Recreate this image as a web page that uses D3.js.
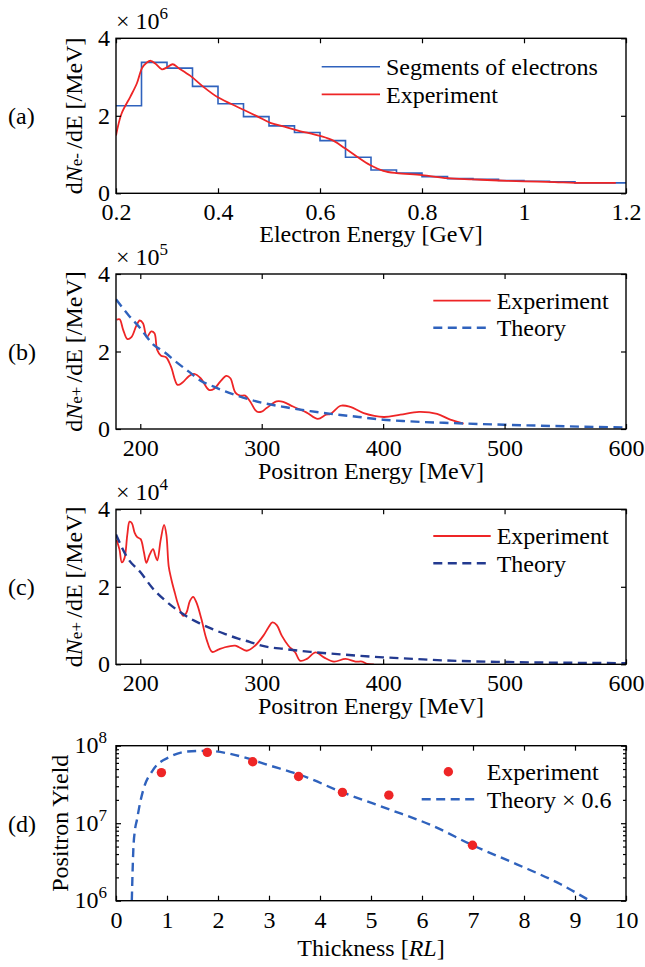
<!DOCTYPE html>
<html>
<head>
<meta charset="utf-8">
<script src="https://cdn.jsdelivr.net/npm/d3@7"></script>
<style>
body { margin: 0; background: #fff; }
svg text { font-family: 'Liberation Serif', 'Times New Roman', serif; fill: #000; }
</style>
</head>
<body>
<svg id="chart"></svg>
<script>
// (a) electron spectrum, units of 1e6 /MeV
var segStart = [0.2, 0.25, 0.3, 0.35, 0.4, 0.45, 0.5, 0.55, 0.6, 0.65, 0.7, 0.75, 0.8, 0.85, 0.9, 0.95, 1.0, 1.05, 1.1, 1.15];
var segValue = [2.26, 3.38, 3.23, 2.76, 2.31, 1.98, 1.74, 1.57, 1.36, 0.93, 0.60, 0.52, 0.43, 0.38, 0.36, 0.33, 0.31, 0.30, 0.27, 0.27];
var expA_E = [0.2, 0.211, 0.228, 0.241, 0.251, 0.26, 0.268, 0.277, 0.29, 0.30, 0.311, 0.323, 0.346, 0.372, 0.398, 0.425, 0.451, 0.478, 0.504, 0.53, 0.557, 0.6, 0.626, 0.649, 0.672, 0.698, 0.724, 0.75, 0.80, 0.85, 0.90, 0.95, 1.0, 1.06, 1.10, 1.18];
var expA_V = [1.49, 2.06, 2.49, 2.84, 3.23, 3.37, 3.42, 3.35, 3.20, 3.25, 3.33, 3.23, 3.03, 2.74, 2.49, 2.31, 2.15, 1.98, 1.81, 1.72, 1.62, 1.48, 1.36, 1.16, 0.95, 0.73, 0.58, 0.52, 0.47, 0.39, 0.36, 0.33, 0.31, 0.29, 0.27, 0.27];

// (b) positron spectrum, units of 1e5 /MeV
var expB_E = [180.5, 183, 185.9, 189.4, 192.7, 196.7, 199.5, 202.2, 205.4, 209, 211.7, 213.9, 217.1, 221.2, 225.3, 230.7, 234.8, 240.2, 244.3, 249.7, 256.5, 260.6, 266, 270.9, 274.2, 278.3, 282.3, 286.4, 290.5, 295.9, 300, 304, 312.2, 317.7, 325.8, 336.7, 346.2, 353, 356.7, 365, 373, 384, 400.5, 414.2, 429.6, 444.4, 455.3, 466.3];
var expB_V = [2.82, 2.83, 2.56, 2.32, 2.37, 2.66, 2.80, 2.73, 2.37, 2.52, 2.47, 2.04, 1.89, 1.85, 1.61, 1.14, 1.20, 1.37, 1.42, 1.31, 1.01, 1.03, 1.23, 1.37, 1.31, 0.94, 0.86, 0.86, 0.71, 0.45, 0.45, 0.54, 0.71, 0.70, 0.58, 0.43, 0.26, 0.37, 0.39, 0.60, 0.57, 0.41, 0.31, 0.37, 0.44, 0.39, 0.24, 0.14];
var theoB_E = [180, 190, 200, 210, 220, 230, 240, 250, 260, 270, 280, 300, 320, 340, 360, 380, 400, 420, 450, 500, 550, 600];
var theoB_V = [3.35, 2.95, 2.6, 2.2, 1.98, 1.72, 1.48, 1.24, 1.1, 0.97, 0.86, 0.68, 0.56, 0.46, 0.38, 0.31, 0.24, 0.2, 0.16, 0.11, 0.07, 0.04];

// (c) positron spectrum, units of 1e4 /MeV
var expC_E = [180.5, 182.9, 184.8, 187, 189.3, 191.2, 193.1, 195.3, 197.5, 200.3, 203, 205, 207.7, 210.5, 212.4, 214, 216.8, 219.6, 221.5, 223.4, 225.6, 228.4, 231.1, 235.3, 238, 240.8, 243.5, 246.3, 250.4, 254.5, 259.2, 264.2, 269.7, 278, 281.3, 287.6, 294.5, 301.4, 305.5, 308.8, 312.4, 316.5, 322, 327.5, 331.7, 337.2, 344.4, 351.2, 359.5, 369, 377.3, 382.7, 386.8, 392.3];
var expC_V = [3.21, 2.96, 2.63, 2.74, 3.34, 3.68, 3.64, 3.40, 3.28, 3.23, 2.89, 2.62, 2.83, 2.97, 2.80, 2.68, 3.21, 3.60, 3.34, 2.53, 2.19, 1.85, 1.55, 1.25, 1.33, 1.63, 1.74, 1.59, 1.16, 0.65, 0.32, 0.38, 0.44, 0.48, 0.44, 0.35, 0.48, 0.74, 0.95, 1.08, 1.01, 0.74, 0.48, 0.31, 0.09, 0.14, 0.31, 0.18, 0.07, 0.14, 0.07, 0.07, 0.01, 0];
var theoC_E = [180, 190, 200, 210, 220, 230, 240, 250, 260, 270, 280, 290, 300, 320, 340, 360, 380, 400, 425, 450, 500, 550, 600];
var theoC_V = [3.35, 2.72, 2.38, 1.97, 1.66, 1.41, 1.2, 1.04, 0.9, 0.78, 0.67, 0.58, 0.48, 0.39, 0.32, 0.27, 0.22, 0.18, 0.14, 0.1, 0.06, 0.04, 0.03];

// (d) positron yield vs thickness
var yieldX = [0.89, 1.79, 2.68, 3.58, 4.44, 5.35, 6.99];
var yieldY = [4.5e7, 8.2e7, 6.2e7, 4.0e7, 2.5e7, 2.3e7, 5.2e6];
var theoD_X = [0.31, 0.32, 0.34, 0.37, 0.41, 0.47, 0.535, 0.73, 1.06, 1.39, 1.78, 2.18, 2.57, 2.96, 3.42, 3.61, 4.44, 5.37, 6.22, 6.99, 7.86, 8.71, 9.29];
var theoD_Y = [1e6, 1.8e6, 4.6e6, 8e6, 1.1e7, 1.8e7, 2.7e7, 4.9e7, 7.2e7, 8.4e7, 8.6e7, 8.0e7, 6.9e7, 5.7e7, 4.6e7, 4.2e7, 2.5e7, 1.5e7, 9.2e6, 5.2e6, 2.95e6, 1.64e6, 1.0e6];

var xTicksA = [0.2, 0.4, 0.6, 0.8, 1, 1.2];
var xTicksE = [200, 300, 400, 500, 600];
var yTicksLin = [0, 2, 4];
var xTicksD = [0, 1, 2, 3, 4, 5, 6, 7, 8, 9, 10];
var yTicksD = [1e6, 1e7, 1e8];
var yMinorD = [2e6, 3e6, 4e6, 5e6, 6e6, 7e6, 8e6, 9e6, 2e7, 3e7, 4e7, 5e7, 6e7, 7e7, 8e7, 9e7];

var W = 645, H = 967;
var left = 116, plotW = 510, plotH = 155;
var red = "#ee2526", blue = "#2f62bd", navy = "#233a90";
var FS = 24;

var svg = d3.select("#chart").attr("width", W).attr("height", H);
var defs = svg.append("defs");

function panel(id, top, x, y) {
	var g = svg.append("g").attr("transform", "translate(" + left + "," + top + ")");
	defs.append("clipPath").attr("id", "clip" + id)
		.append("rect").attr("width", plotW).attr("height", plotH);
	g.plot = g.append("g").attr("clip-path", "url(#clip" + id + ")");
	return g;
}

function styleAxis(a) {
	a.attr("font-family", null).attr("font-size", FS);
	a.select(".domain").remove();
	a.selectAll(".tick line").attr("stroke", "#000").attr("stroke-width", 1.2);
}

function axes(g, x, y, xTicks, xFmt, yTicks, yFmt) {
	g.append("g").attr("transform", "translate(0," + plotH + ")")
		.call(d3.axisBottom(x).tickValues(xTicks).tickFormat(xFmt).tickSizeInner(-5).tickSizeOuter(0).tickPadding(10))
		.call(styleAxis);
	g.append("g")
		.call(d3.axisTop(x).tickValues(xTicks).tickFormat("").tickSizeInner(-5).tickSizeOuter(0))
		.call(styleAxis);
	g.append("g")
		.call(d3.axisLeft(y).tickValues(yTicks).tickFormat(yFmt).tickSizeInner(-5).tickSizeOuter(0).tickPadding(6))
		.call(styleAxis);
	g.append("g").attr("transform", "translate(" + plotW + ",0)")
		.call(d3.axisRight(y).tickValues(yTicks).tickFormat("").tickSizeInner(-5).tickSizeOuter(0))
		.call(styleAxis);
	g.append("rect").attr("width", plotW).attr("height", plotH)
		.attr("fill", "none").attr("stroke", "#000").attr("stroke-width", 1.4);
}

function yLabel(g, x, parts) {
	var t = g.append("text")
		.attr("transform", "translate(" + x + "," + plotH / 2 + ") rotate(-90)")
		.attr("text-anchor", "middle").attr("font-size", FS);
	parts.forEach(function(p) {
		var s = t.append("tspan").text(p.t);
		if (p.i) s.attr("font-style", "italic");
		if (p.s) s.attr("font-size", p.s);
	});
}

function xLabel(g, dy, parts) {
	var t = g.append("text").attr("x", plotW / 2).attr("y", plotH + dy)
		.attr("text-anchor", "middle").attr("font-size", FS);
	parts.forEach(function(p) {
		var s = t.append("tspan").text(p.t);
		if (p.i) s.attr("font-style", "italic");
	});
}

function tag(g, name) {
	g.append("text").attr("x", 8 - left).attr("y", plotH / 2).attr("dy", "0.35em")
		.attr("font-size", FS).text(name);
}

function multiplier(g, exp) {
	var t = g.append("text").attr("x", 0).attr("y", -9).attr("font-size", FS);
	t.append("tspan").text("\u00d7 10");
	t.append("tspan").attr("dy", -10).attr("font-size", 17).text(exp);
}

function legend(g, x0, x1, tx, rows) {
	rows.forEach(function(r) {
		if (r.dot) {
			g.append("circle").attr("cx", (x0 + x1) / 2).attr("cy", r.y).attr("r", 4.7).attr("fill", r.color);
		} else {
			g.append("line").attr("x1", x0).attr("x2", x1).attr("y1", r.y).attr("y2", r.y)
				.attr("stroke", r.color).attr("stroke-width", r.w)
				.attr("stroke-dasharray", r.dash || null);
		}
		g.append("text").attr("x", tx).attr("y", r.y).attr("dy", "0.35em")
			.attr("font-size", FS).text(r.text);
	});
}

function drawLine(g, xs, ys, x, y, color, w, dash, curve) {
	var pts = xs.map(function(d, i) { return [d, ys[i]]; });
	g.append("path").datum(pts)
		.attr("d", d3.line().x(function(d) { return x(d[0]); }).y(function(d) { return y(d[1]); }).curve(curve || d3.curveMonotoneX))
		.attr("fill", "none").attr("stroke", color).attr("stroke-width", w)
		.attr("stroke-dasharray", dash || null);
}

var fmtLin = function(d) { return d; };

// ---- (a)
var topA = 38.3;
var xA = d3.scaleLinear().domain([0.2, 1.2]).range([0, plotW]);
var yA = d3.scaleLinear().domain([0, 4]).range([plotH, 0]);
var gA = panel("a", topA, xA, yA);
var stepPts = segStart.concat([1.2]);
var stepVal = segValue.concat([segValue[segValue.length - 1]]);
drawLine(gA.plot, stepPts, stepVal, xA, yA, blue, 1.6, null, d3.curveStepAfter);
drawLine(gA.plot, expA_E, expA_V, xA, yA, red, 1.8, null, d3.curveCatmullRom);
axes(gA, xA, yA, xTicksA, fmtLin, yTicksLin, fmtLin);
yLabel(gA, 82 - left, [{t: "d"}, {t: "N", i: true}, {t: "e- ", s: 17}, {t: "/dE [/MeV]"}]);
xLabel(gA, 48.5, [{t: "Electron Energy [GeV]"}]);
tag(gA, "(a)");
multiplier(gA, "6");
legend(gA, 321.7 - left, 380 - left, 386 - left, [
	{y: 66.7 - topA, color: blue, w: 1.6, text: "Segments of electrons"},
	{y: 94.3 - topA, color: red, w: 1.8, text: "Experiment"}
]);

// ---- (b)
var topB = 274;
var xB = d3.scaleLinear().domain([180, 600]).range([0, plotW]);
var yB = d3.scaleLinear().domain([0, 4]).range([plotH, 0]);
var gB = panel("b", topB, xB, yB);
drawLine(gB.plot, expB_E, expB_V, xB, yB, red, 1.8, null, d3.curveCatmullRom);
drawLine(gB.plot, theoB_E, theoB_V, xB, yB, blue, 2.4, "9,5.5");
axes(gB, xB, yB, xTicksE, fmtLin, yTicksLin, fmtLin);
yLabel(gB, 82 - left, [{t: "d"}, {t: "N", i: true}, {t: "e+ ", s: 17}, {t: "/dE [/MeV]"}]);
xLabel(gB, 49.5, [{t: "Positron Energy [MeV]"}]);
tag(gB, "(b)");
multiplier(gB, "5");
legend(gB, 433.3 - left, 490.7 - left, 496.7 - left, [
	{y: 300.7 - topB, color: red, w: 1.8, text: "Experiment"},
	{y: 327.7 - topB, color: blue, w: 2.4, dash: "9,5.5", text: "Theory"}
]);

// ---- (c)
var topC = 509.3;
var xC = d3.scaleLinear().domain([180, 600]).range([0, plotW]);
var yC = d3.scaleLinear().domain([0, 4]).range([plotH, 0]);
var gC = panel("c", topC, xC, yC);
drawLine(gC.plot, expC_E, expC_V, xC, yC, red, 1.8, null, d3.curveCatmullRom);
drawLine(gC.plot, theoC_E, theoC_V, xC, yC, navy, 2.4, "9,5.5");
axes(gC, xC, yC, xTicksE, fmtLin, yTicksLin, fmtLin);
yLabel(gC, 82 - left, [{t: "d"}, {t: "N", i: true}, {t: "e+ ", s: 17}, {t: "/dE [/MeV]"}]);
xLabel(gC, 49.5, [{t: "Positron Energy [MeV]"}]);
tag(gC, "(c)");
multiplier(gC, "4");
legend(gC, 433.3 - left, 490.7 - left, 496.7 - left, [
	{y: 536 - topC, color: red, w: 1.8, text: "Experiment"},
	{y: 563.3 - topC, color: navy, w: 2.4, dash: "9,5.5", text: "Theory"}
]);

// ---- (d)
var topD = 745.7;
var xD = d3.scaleLinear().domain([0, 10]).range([0, plotW]);
var yD = d3.scaleLog().domain([1e6, 1e8]).range([plotH, 0]);
var gD = panel("d", topD, xD, yD);
drawLine(gD.plot, theoD_X, theoD_Y, xD, yD, blue, 2.4, "9,5.5");
gD.plot.selectAll("circle.pt").data(yieldX).enter().append("circle")
	.attr("class", "pt")
	.attr("cx", function(d) { return xD(d); })
	.attr("cy", function(d, i) { return yD(yieldY[i]); })
	.attr("r", 4.7).attr("fill", red);
axes(gD, xD, yD, xTicksD, fmtLin, yTicksD, "");
// minor log ticks on both sides
gD.append("g").call(d3.axisLeft(yD).tickValues(yMinorD).tickFormat("").tickSizeInner(-3).tickSizeOuter(0)).call(styleAxis);
gD.append("g").attr("transform", "translate(" + plotW + ",0)")
	.call(d3.axisRight(yD).tickValues(yMinorD).tickFormat("").tickSizeInner(-3).tickSizeOuter(0)).call(styleAxis);
// power-of-ten labels
yTicksD.forEach(function(v) {
	var t = gD.append("text").attr("x", -9).attr("y", yD(v)).attr("dy", "0.32em")
		.attr("text-anchor", "end").attr("font-size", FS);
	t.append("tspan").text("10");
	t.append("tspan").attr("dy", -10).attr("font-size", 17).text(Math.round(Math.log10(v)));
});
yLabel(gD, 68 - left, [{t: "Positron Yield"}]);
xLabel(gD, 55, [{t: "Thickness ["}, {t: "RL", i: true}, {t: "]"}]);
tag(gD, "(d)");
legend(gD, 421.7 - left, 475 - left, 486.7 - left, [
	{y: 771.7 - topD, color: red, dot: true, text: "Experiment"},
	{y: 799.3 - topD, color: blue, w: 2.4, dash: "9,5.5", text: "Theory \u00d7 0.6"}
]);
</script>
</body>
</html>
